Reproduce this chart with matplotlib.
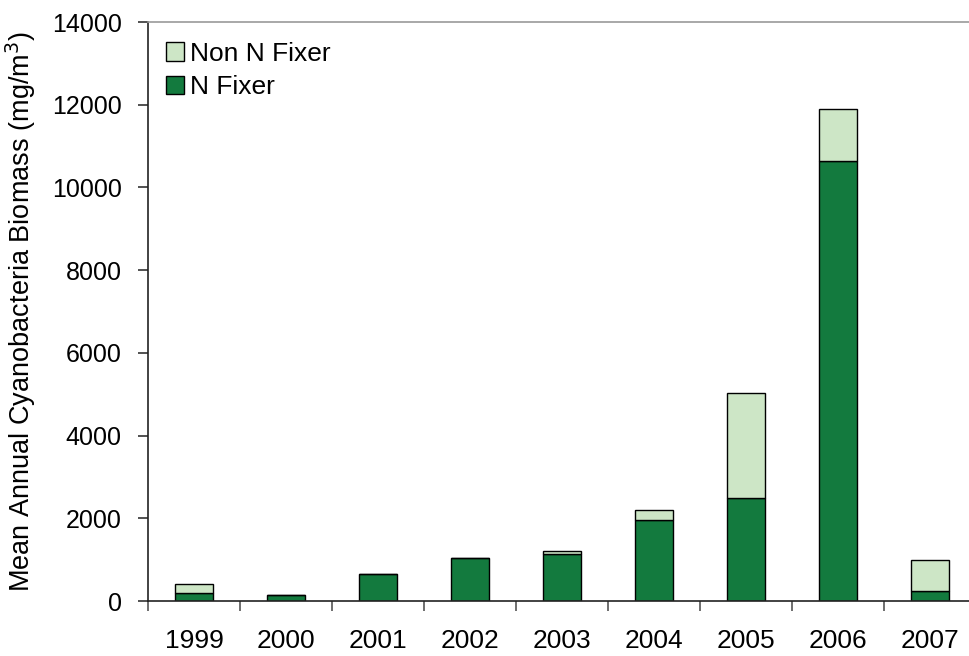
import numpy as np
import matplotlib.pyplot as plt

plt.rcParams['font.family'] = ['Liberation Sans', 'DejaVu Sans']

# Biomasa media anual de cianobacterias (mg/m3)
anios = ['1999', '2000', '2001', '2002', '2003', '2004', '2005', '2006', '2007']
n_fijadoras = [190, 150, 650, 1050, 1130, 1960, 2500, 10650, 240]
no_fijadoras = [220, 5, 0, 0, 70, 240, 2530, 1250, 740]

verde_oscuro = '#137a3e'
verde_claro = '#cde6c6'

fig = plt.figure(figsize=(9.69, 6.56), dpi=100)
ax = fig.add_axes([0.1527, 0.0838, 0.8545, 0.8826])

x = np.arange(len(anios))
ancho = 0.41
ax.bar(x, n_fijadoras, ancho, color=verde_oscuro, edgecolor='black',
       linewidth=1.0, label='N Fixer')
ax.bar(x, no_fijadoras, ancho, bottom=n_fijadoras, color=verde_claro,
       edgecolor='black', linewidth=1.0, label='Non N Fixer')

ax.set_xlim(-0.5, len(anios) - 0.5)
ax.set_ylim(0, 14000)
ax.set_yticks(range(0, 14001, 2000))
ax.set_xticks(x)
ax.set_xticklabels(anios)
ax.set_xticks(np.arange(-0.5, len(anios)), minor=True)
ax.tick_params(axis='x', which='major', length=0, pad=20, labelsize=19)
ax.tick_params(axis='x', which='minor', length=7, width=1.2, color='#555555')
ax.tick_params(axis='y', length=7, width=1.2, color='#333333', labelsize=18, pad=12)

ax.spines['right'].set_visible(False)
ax.spines['top'].set_color('#999999')
ax.spines['top'].set_linewidth(1.2)
ax.spines['left'].set_color('#222222')
ax.spines['bottom'].set_color('#222222')
ax.spines['left'].set_linewidth(1.2)
ax.spines['bottom'].set_linewidth(1.2)

ax.set_ylabel('Mean Annual Cyanobacteria Biomass (mg/m$^3$)', fontsize=19.5, labelpad=10)

handles, labels = ax.get_legend_handles_labels()
ax.legend(handles[::-1], labels[::-1], loc='upper left', frameon=False,
          fontsize=19, handlelength=0.68, handleheight=0.72, handletextpad=0.25,
          labelspacing=0.36, borderpad=0, borderaxespad=0,
          bbox_to_anchor=(0.0217, 0.966))

plt.savefig('out.png', dpi=100)
